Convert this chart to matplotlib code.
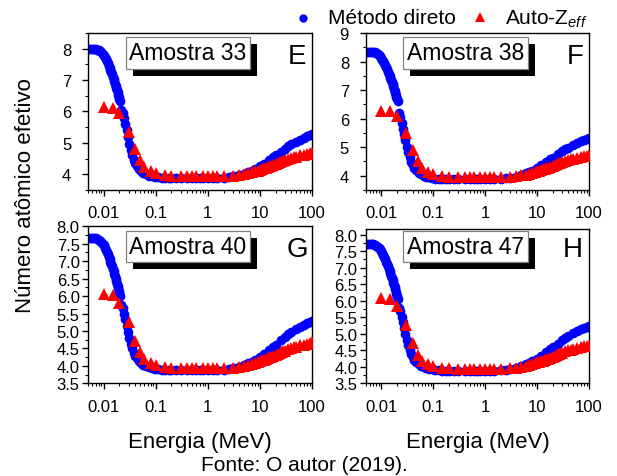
import matplotlib
matplotlib.use("Agg")
import matplotlib.pyplot as plt
from matplotlib.patches import Rectangle
from matplotlib.lines import Line2D
from matplotlib.ticker import FixedLocator, LogLocator, NullFormatter, MultipleLocator, FormatStrFormatter

plt.rcParams['font.family'] = ['Liberation Sans', 'DejaVu Sans']
plt.rcParams['mathtext.fontset'] = 'custom'
plt.rcParams['mathtext.rm'] = 'Liberation Sans'
plt.rcParams['mathtext.it'] = 'Liberation Sans:italic'

# ---------------- data ----------------
BLUE_E = [0.005, 0.0055, 0.006, 0.0065, 0.007, 0.0075, 0.008, 0.0085, 0.009, 0.0095,
          0.01, 0.0105, 0.011, 0.0115, 0.012, 0.0125, 0.013, 0.0135, 0.014, 0.0145,
          0.015, 0.0155, 0.016, 0.0165, 0.017, 0.0175, 0.018, 0.0185, 0.019, 0.0195,
          0.02, 0.0205,
          0.0215, 0.023, 0.0245, 0.026, 0.0275, 0.029, 0.031, 0.033, 0.035, 0.0375,
          0.04, 0.043, 0.047, 0.052, 0.058, 0.065, 0.073, 0.083, 0.095, 0.11,
          0.13, 0.15, 0.18,
          0.2, 0.25, 0.3, 0.4, 0.5, 0.6, 0.7, 0.8, 1, 1.25, 1.5, 2, 2.5, 3, 4, 5,
          6, 7, 8, 10, 12, 15, 18, 20, 25, 30, 35, 40, 50, 60, 70, 80, 90, 100]

BLUE_33 = [8.00, 8.00, 8.00, 8.00, 7.99, 7.97, 7.95, 7.92, 7.88, 7.83,
           7.78, 7.72, 7.66, 7.60, 7.53, 7.46, 7.39, 7.32, 7.25, 7.18,
           7.10, 7.03, 6.96, 6.89, 6.82, 6.75, 6.68, 6.61, 6.54, 6.47,
           6.40, 6.33,
           6.05, 5.95, 5.78, 5.60, 5.40, 5.20, 4.98, 4.78, 4.60, 4.45,
           4.35, 4.27, 4.18, 4.10, 4.05, 4.00, 3.96, 3.94, 3.92, 3.90,
           3.89, 3.88, 3.88,
           3.87, 3.87, 3.87, 3.87, 3.87, 3.87, 3.87, 3.87, 3.87, 3.88, 3.88, 3.89, 3.91, 3.93, 3.97, 4.02,
           4.07, 4.12, 4.17, 4.26, 4.34, 4.45, 4.55, 4.60, 4.72, 4.82, 4.89, 4.95, 5.04, 5.10, 5.16, 5.21, 5.25, 5.29]

BLUE_38 = [8.35, 8.35, 8.35, 8.35, 8.34, 8.32, 8.30, 8.27, 8.23, 8.18,
           8.13, 8.07, 8.01, 7.94, 7.87, 7.80, 7.73, 7.65, 7.58, 7.50,
           7.43, 7.35, 7.28, 7.20, 7.13, 7.05, 6.98, 6.90, 6.83, 6.76,
           6.69, 6.62,
           6.20, 6.05, 5.85, 5.65, 5.45, 5.24, 5.02, 4.82, 4.64, 4.48,
           4.37, 4.28, 4.19, 4.11, 4.05, 4.00, 3.96, 3.94, 3.92, 3.90,
           3.89, 3.88, 3.88,
           3.87, 3.87, 3.87, 3.87, 3.87, 3.87, 3.87, 3.87, 3.87, 3.88, 3.88, 3.89, 3.91, 3.93, 3.97, 4.02,
           4.08, 4.13, 4.18, 4.28, 4.36, 4.47, 4.57, 4.63, 4.75, 4.85, 4.92, 4.98, 5.07, 5.14, 5.20, 5.25, 5.29, 5.33]

BLUE_40 = [7.67, 7.67, 7.67, 7.67, 7.66, 7.64, 7.62, 7.59, 7.55, 7.50,
           7.45, 7.39, 7.33, 7.27, 7.20, 7.13, 7.06, 6.99, 6.92, 6.85,
           6.78, 6.71, 6.64, 6.57, 6.50, 6.43, 6.36, 6.29, 6.22, 6.15,
           6.08, 6.01,
           5.75, 5.65, 5.50, 5.33, 5.15, 4.98, 4.80, 4.64, 4.50, 4.38,
           4.29, 4.22, 4.14, 4.08, 4.03, 3.99, 3.96, 3.94, 3.92, 3.90,
           3.89, 3.88, 3.88,
           3.87, 3.87, 3.87, 3.87, 3.87, 3.87, 3.87, 3.87, 3.87, 3.88, 3.88, 3.89, 3.91, 3.93, 3.97, 4.02,
           4.07, 4.12, 4.17, 4.26, 4.34, 4.45, 4.55, 4.61, 4.73, 4.83, 4.90, 4.96, 5.05, 5.11, 5.17, 5.22, 5.26, 5.30]

BLUE_47 = [7.72, 7.72, 7.72, 7.72, 7.71, 7.69, 7.67, 7.64, 7.60, 7.55,
           7.50, 7.44, 7.38, 7.32, 7.25, 7.18, 7.11, 7.04, 6.97, 6.90,
           6.83, 6.76, 6.69, 6.62, 6.55, 6.48, 6.41, 6.34, 6.27, 6.20,
           6.13, 6.06,
           5.78, 5.68, 5.52, 5.35, 5.17, 4.99, 4.81, 4.65, 4.51, 4.39,
           4.30, 4.22, 4.14, 4.08, 4.03, 3.99, 3.96, 3.94, 3.92, 3.90,
           3.89, 3.88, 3.88,
           3.87, 3.87, 3.87, 3.87, 3.87, 3.87, 3.87, 3.87, 3.87, 3.88, 3.88, 3.89, 3.91, 3.93, 3.97, 4.02,
           4.07, 4.11, 4.16, 4.25, 4.33, 4.44, 4.53, 4.59, 4.70, 4.80, 4.87, 4.93, 5.01, 5.07, 5.13, 5.17, 5.21, 5.23]

RED_E = [0.01, 0.015, 0.02, 0.03, 0.04, 0.05, 0.06, 0.08, 0.1, 0.15, 0.2, 0.3, 0.4,
         0.5, 0.6, 0.8, 1, 1.25, 1.5, 2, 3, 4, 5, 6, 7, 8, 9, 10, 11, 12, 13, 14,
         15, 16, 18, 20, 22, 24, 26, 28, 30, 35, 40, 45, 50, 60, 70, 80, 90, 100]

RED_33 = [6.15, 6.10, 5.95, 5.35, 4.80, 4.44, 4.22, 4.10, 4.03, 3.98, 3.96, 3.95, 3.95,
          3.95, 3.95, 3.95, 3.95, 3.95, 3.95, 3.95, 3.96, 3.98, 4.00, 4.03, 4.06, 4.09, 4.12, 4.15, 4.17, 4.19, 4.21, 4.23,
          4.25, 4.27, 4.30, 4.33, 4.36, 4.39, 4.41, 4.43, 4.45, 4.49, 4.52, 4.54, 4.56, 4.60, 4.62, 4.65, 4.67, 4.68]
RED_38 = [6.28, 6.25, 6.10, 5.50, 4.90, 4.50, 4.26, 4.12, 4.05, 3.99, 3.97, 3.96, 3.96,
          3.96, 3.96, 3.96, 3.96, 3.96, 3.96, 3.96, 3.97, 3.99, 4.01, 4.04, 4.07, 4.10, 4.13, 4.16, 4.18, 4.20, 4.22, 4.24,
          4.26, 4.28, 4.31, 4.35, 4.38, 4.41, 4.43, 4.45, 4.47, 4.51, 4.55, 4.57, 4.59, 4.63, 4.66, 4.68, 4.70, 4.72]
RED_40 = [6.05, 6.03, 5.80, 5.25, 4.70, 4.40, 4.20, 4.08, 4.02, 3.97, 3.95, 3.94, 3.94,
          3.94, 3.94, 3.94, 3.94, 3.94, 3.94, 3.94, 3.95, 3.97, 3.99, 4.02, 4.05, 4.08, 4.11, 4.14, 4.16, 4.18, 4.20, 4.22,
          4.24, 4.26, 4.29, 4.32, 4.35, 4.38, 4.40, 4.42, 4.44, 4.48, 4.51, 4.53, 4.55, 4.59, 4.61, 4.64, 4.66, 4.67]
RED_47 = [6.08, 6.05, 5.83, 5.27, 4.71, 4.37, 4.18, 4.07, 4.02, 3.97, 3.95, 3.94, 3.94,
          3.94, 3.94, 3.94, 3.94, 3.94, 3.94, 3.94, 3.95, 3.97, 3.99, 4.02, 4.05, 4.08, 4.11, 4.13, 4.15, 4.17, 4.19, 4.21,
          4.23, 4.25, 4.28, 4.31, 4.34, 4.37, 4.39, 4.41, 4.43, 4.47, 4.50, 4.52, 4.54, 4.57, 4.59, 4.62, 4.63, 4.64]

SAMPLES = ["Amostra 33", "Amostra 38", "Amostra 40", "Amostra 47"]
LETTERS = ["E", "F", "G", "H"]
X_TICKS = [0.01, 0.1, 1, 10, 100]
X_TICK_LABELS = ["0.01", "0.1", "1", "10", "100"]

# ---------------- layout ----------------
W, H = 617, 477
fig = plt.figure(figsize=(W / 100, H / 100), dpi=100)

def fx(x):
    return x / W

def fy(y):
    return 1 - y / H

def add_axes(l, t, r, b):
    return fig.add_axes([fx(l), fy(b), fx(r) - fx(l), (b - t) / H])

panels = [
    dict(rect=(88, 34, 312, 191), ylim=(3.5, 8.5), major=1, minor=0.5, fmt='%d', pad=8,
         blue=BLUE_33, red=RED_33, box=(126, 38, 250, 70), letter=(297, 57)),
    dict(rect=(365.7, 34, 589, 191), ylim=(3.5, 9.0), major=1, minor=0.5, fmt='%d', pad=8,
         blue=BLUE_38, red=RED_38, box=(403, 38, 528, 70), letter=(575, 57)),
    dict(rect=(88, 227.3, 312, 384.3), ylim=(3.5, 8.0), major=0.5, minor=0.25, fmt='%.1f', pad=2,
         blue=BLUE_40, red=RED_40, box=(126, 232.3, 250, 263.3), letter=(297, 250)),
    dict(rect=(365.7, 230, 589, 384.3), ylim=(3.5, 8.17), major=0.5, minor=0.25, fmt='%.1f', pad=2,
         blue=BLUE_47, red=RED_47, box=(403.3, 232.3, 527.7, 263.3), letter=(573, 250)),
]

for i, p in enumerate(panels):
    ax = add_axes(*p['rect'])
    ax.plot(BLUE_E, p['blue'], 'o', color='#0000ff', markersize=7, markeredgewidth=0, zorder=2)
    ax.plot(RED_E, p['red'], '^', color='#ff0000', markersize=8.5, markeredgewidth=0, zorder=3)
    ax.set_xscale('log')
    ax.set_xlim(0.005, 100)
    ax.set_ylim(*p['ylim'])
    ax.xaxis.set_major_locator(FixedLocator(X_TICKS))
    ax.set_xticklabels(X_TICK_LABELS)
    ax.xaxis.set_minor_locator(LogLocator(base=10, subs=range(2, 10), numticks=20))
    ax.xaxis.set_minor_formatter(NullFormatter())
    ax.yaxis.set_major_locator(MultipleLocator(p['major']))
    ax.yaxis.set_minor_locator(MultipleLocator(p['minor']))
    ax.yaxis.set_major_formatter(FormatStrFormatter(p['fmt']))
    ax.tick_params(axis='both', which='major', direction='out', length=4, width=1.0,
                   labelsize=12, colors='black')
    ax.tick_params(axis='both', which='minor', direction='out', length=2.2, width=0.8)
    ax.tick_params(axis='x', which='major', pad=7)
    ax.tick_params(axis='y', which='major', pad=p['pad'])
    for s in ax.spines.values():
        s.set_linewidth(1.0)
        s.set_color('black')

    # sample label box with shadow
    bl, bt, br, bb = p['box']
    off = 7
    fig.add_artist(Rectangle((fx(bl + off), fy(bb + off)), fx(br - bl), (bb - bt) / H,
                             transform=fig.transFigure, facecolor='black', edgecolor='none', zorder=5))
    fig.add_artist(Rectangle((fx(bl), fy(bb)), fx(br - bl), (bb - bt) / H,
                             transform=fig.transFigure, facecolor='white', edgecolor='#808080',
                             linewidth=0.9, zorder=6))
    fig.text(fx((bl + br) / 2), fy((bt + bb) / 2), SAMPLES[i], ha='center', va='center',
             fontsize=16.5, zorder=7)
    lx, ly = p['letter']
    fig.text(fx(lx), fy(ly), LETTERS[i], ha='center', va='center', fontsize=20, zorder=7)

# axis labels
fig.text(fx(200), fy(443), 'Energia (MeV)', ha='center', va='center', fontsize=16)
fig.text(fx(477.4), fy(443), 'Energia (MeV)', ha='center', va='center', fontsize=16)
fig.text(fx(26), fy(196), 'Número atômico efetivo', ha='center', va='center',
         rotation=90, fontsize=16)
fig.text(fx(304), fy(465.5), 'Fonte: O autor (2019).', ha='center', va='center', fontsize=15)

# legend
fig.add_artist(Line2D([fx(303)], [fy(19)], marker='o', color='#0000ff', markersize=6,
                      markeredgewidth=0, linestyle='none', transform=fig.transFigure))
fig.text(fx(328), fy(19), 'Método direto', ha='left', va='center', fontsize=15)
fig.add_artist(Line2D([fx(480)], [fy(18)], marker='^', color='#ff0000', markersize=6.5,
                      markeredgewidth=0, linestyle='none', transform=fig.transFigure))
fig.text(fx(505), fy(19), r'Auto-Z$_{\mathit{eff}}$', ha='left', va='center', fontsize=15)

fig.savefig('out.png', dpi=100)
